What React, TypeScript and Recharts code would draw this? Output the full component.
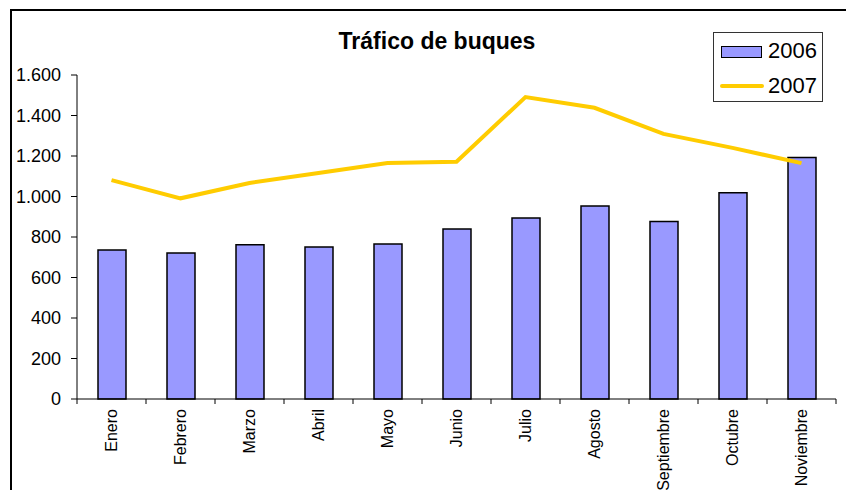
import React from 'react';
import { ComposedChart, Bar, Line, XAxis, YAxis, Legend } from 'recharts';

const months = ['Enero', 'Febrero', 'Marzo', 'Abril', 'Mayo', 'Junio', 'Julio', 'Agosto', 'Septiembre', 'Octubre', 'Noviembre'];
const trafico2006 = [736, 721, 762, 751, 765, 840, 894, 953, 876, 1019, 1193];
const trafico2007 = [1081, 991, 1067, 1116, 1165, 1172, 1491, 1438, 1309, 1240, 1165];
const yTicks = [0, 200, 400, 600, 800, 1000, 1200, 1400, 1600];

const data = months.map((m, i) => ({ month: m, t2006: trafico2006[i], t2007: trafico2007[i] }));

const W = 846;
const H = 490;
const M = { top: 75, right: 10, left: 0, bottom: 0 };
const Y_W = 77;
const X_H = 91;
const FONT = '"Liberation Sans", Arial, Helvetica, sans-serif';

const fmt = (v: number) => {
  if (v >= 1000) {
    return `${Math.floor(v / 1000)}.${String(v % 1000).padStart(3, '0')}`;
  }
  return String(v);
};

const XTick = (props: any) => {
  const { x, y, payload, index } = props;
  const half = payload && payload.offset ? payload.offset : (W - Y_W - M.right) / months.length / 2;
  const axisY = y - 10;
  return (
    <g>
      <line x1={x - half} x2={x - half} y1={axisY} y2={axisY + 5} stroke="#000" strokeWidth={1} />
      {index === months.length - 1 && (
        <line x1={x + half} x2={x + half} y1={axisY} y2={axisY + 5} stroke="#000" strokeWidth={1} />
      )}
      <text
        x={x}
        y={y}
        dy="0.35em"
        transform={`rotate(-90, ${x}, ${y})`}
        textAnchor="end"
        fontSize={16}
        fontFamily={FONT}
        fill="#000"
      >
        {payload.value}
      </text>
    </g>
  );
};

const LegendBox = () => (
  <div
    style={{
      position: 'relative',
      width: 108,
      height: 68,
      border: '1px solid #333',
      background: '#fff',
      fontFamily: FONT,
      fontSize: 22,
      color: '#000',
    }}
  >
    <div
      style={{
        position: 'absolute',
        left: 7,
        top: 13,
        width: 39,
        height: 10,
        background: '#9999FF',
        border: '1.5px solid #000',
      }}
    />
    <div style={{ position: 'absolute', left: 54, top: 5, lineHeight: '26px' }}>2006</div>
    <div
      style={{
        position: 'absolute',
        left: 6,
        top: 51,
        width: 44,
        height: 4,
        background: '#FFCC00',
        borderRadius: 2,
      }}
    />
    <div style={{ position: 'absolute', left: 54, top: 40, lineHeight: '26px' }}>2007</div>
  </div>
);

export default function App() {
  return (
    <div
      style={{
        position: 'absolute',
        left: 0,
        top: 0,
        width: W,
        height: H,
        overflow: 'hidden',
        background: '#fff',
        fontFamily: FONT,
      }}
    >
      <div
        style={{
          position: 'absolute',
          left: 10,
          top: 9,
          width: 1000,
          height: 1000,
          border: '2px solid #000',
        }}
      />
      <div
        style={{
          position: 'absolute',
          left: 0,
          width: W,
          top: 26,
          textAlign: 'center',
          paddingLeft: 28,
          boxSizing: 'border-box',
          fontWeight: 'bold',
          fontSize: 23,
          lineHeight: '30px',
          color: '#000',
        }}
      >
        Tráfico de buques
      </div>
      <div style={{ position: 'absolute', left: 0, top: 0 }}>
        <ComposedChart width={W} height={H} data={data} margin={M}>
          <XAxis
            xAxisId="top"
            orientation="top"
            dataKey="month"
            height={0}
            tick={false}
            tickLine={false}
            axisLine={{ stroke: '#808080', strokeWidth: 1.5 }}
          />
          <YAxis
            yAxisId="right"
            orientation="right"
            width={0}
            domain={[0, 1600]}
            ticks={yTicks}
            tick={false}
            tickLine={false}
            axisLine={{ stroke: '#808080', strokeWidth: 1.5 }}
          />
          <XAxis
            dataKey="month"
            height={X_H}
            interval={0}
            tickLine={false}
            tickSize={0}
            tickMargin={10}
            axisLine={{ stroke: '#000', strokeWidth: 1 }}
            tick={<XTick />}
          />
          <YAxis
            width={Y_W}
            domain={[0, 1600]}
            ticks={yTicks}
            interval={0}
            tickFormatter={fmt}
            tickSize={6}
            tickMargin={10}
            axisLine={{ stroke: '#000', strokeWidth: 1 }}
            tickLine={{ stroke: '#000', strokeWidth: 1 }}
            tick={{ fontSize: 18, fill: '#000', fontFamily: FONT }}
          />
          <Bar
            dataKey="t2006"
            name="2006"
            fill="#9999FF"
            stroke="#000"
            strokeWidth={1.5}
            barSize={28}
            isAnimationActive={false}
          />
          <Line
            dataKey="t2007"
            name="2007"
            type="linear"
            stroke="#FFCC00"
            strokeWidth={4}
            dot={false}
            activeDot={false}
            isAnimationActive={false}
          />
          <Legend
            layout="horizontal"
            verticalAlign="middle"
            align="center"
            content={<LegendBox />}
            wrapperStyle={{ position: 'absolute', left: 713, top: 32, width: 110, height: 70 }}
          />
        </ComposedChart>
      </div>
    </div>
  );
}
